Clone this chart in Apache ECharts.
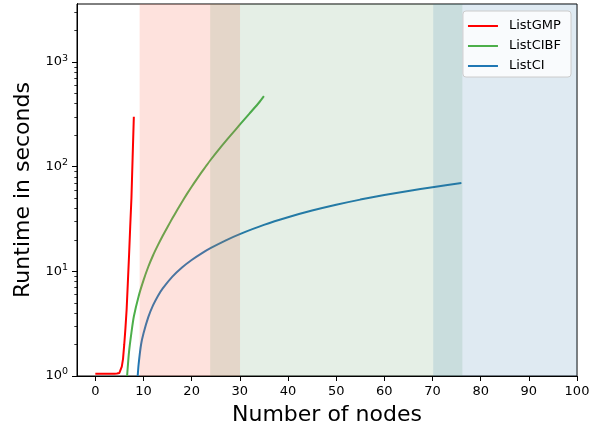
<!DOCTYPE html>
<html lang="en">
<head>
    <meta charset="UTF-8">
    <title>Runtime vs nodes</title>
    <style>
        html, body {margin: 0; padding: 0; background: #fff;}
        #main {width: 605px; height: 429px;}
    </style>
</head>
<body>
<div id="main"></div>
<script src="https://cdn.jsdelivr.net/npm/echarts@6/dist/echarts.min.js"></script>
<script>
    // ListGMP
    let gmpNodes = [0, 1, 2, 3, 4, 4.5, 4.75, 5, 5.25, 5.5, 5.75, 6, 6.25, 6.5, 6.75, 7, 7.25, 7.5, 7.75, 8];
    let gmpTime = [1.05, 1.05, 1.05, 1.05, 1.05, 1.055, 1.06, 1.07, 1.11, 1.23, 1.45, 1.98, 2.84, 4.3, 7.7, 14, 27, 50, 123, 300];
    // ListCIBF
    let cibfNodes = [6.6, 7, 7.5, 8, 9, 10, 11, 12, 13, 14, 15, 16, 17, 18, 19, 20, 21, 22, 23, 24, 26, 28, 30, 32, 34, 35];
    let cibfTime = [1.0, 1.7, 2.6, 3.7, 5.79, 8.2, 11.07, 14.26, 17.8, 21.9, 26.6, 32.1, 38.6, 46.1, 54.7, 64.4, 75.3, 87.7, 101.6, 117.2, 153, 197, 252, 322, 411, 473];
    // ListCI
    let ciNodes = [8.8, 9, 9.5, 10, 11, 12, 13, 14, 16, 18, 20, 22, 24, 27, 30, 35, 40, 45, 50, 55, 60, 65, 70, 76];
    let ciTime = [1.0, 1.3, 2.0, 2.55, 3.65, 4.75, 5.83, 6.88, 8.92, 10.9, 12.85, 14.8, 16.75, 19.7, 22.7, 27.8, 32.9, 38.1, 43.3, 48.5, 53.6, 58.7, 63.7, 70];

    // shaded ranges
    let spanStart = [9.2, 23.85, 70.15];
    let spanEnd = [30.05, 76.2, 100];
    let spanColor = ['rgba(250,110,85,0.2)', 'rgba(70,145,75,0.14)', 'rgba(40,115,165,0.15)'];

    let xTicks = [0, 10, 20, 30, 40, 50, 60, 70, 80, 90, 100];
    let yTicks = [1, 10, 100, 1000];
    let yMinor = [2, 3, 4, 5, 6, 7, 8, 9, 20, 30, 40, 50, 60, 70, 80, 90, 200, 300, 400, 500, 600, 700, 800, 900, 2000, 3000];

    let pairs = (xs, ys) => xs.map((x, i) => [x, ys[i]]);
    let font = 'DejaVu Sans';
    let gridLeft = 77, gridRight = 28;
    let gridWidth = 605 - gridLeft - gridRight;

    // tick-only log axis, moved from the right side onto the left spine
    let tickAxis = (values, len, width) => ({
        type: 'log',
        logBase: 10,
        min: 1,
        max: 3590,
        position: 'right',
        offset: -gridWidth,
        splitLine: {show: false},
        axisLine: {show: true, onZero: false, lineStyle: {color: '#000', width: 1}},
        axisTick: {show: true, inside: true, customValues: values, length: len, lineStyle: {color: '#000', width: width}},
        axisLabel: {show: true, customValues: values, formatter: () => ''}
    });

    let myChart = echarts.init(document.getElementById('main'));
    let option = {
        animation: false,
        textStyle: {fontFamily: font},
        grid: {
            left: gridLeft, right: gridRight, top: 4, bottom: 53, outerBoundsMode: 'none',
            show: true, borderColor: '#000', borderWidth: 1, backgroundColor: 'transparent'
        },
        legend: {
            data: ['ListGMP', 'ListCIBF', 'ListCI'],
            orient: 'vertical',
            right: 34,
            top: 11,
            icon: 'rect',
            itemWidth: 30,
            itemHeight: 2,
            itemGap: 6,
            padding: [8, 10, 4, 5],
            backgroundColor: 'rgba(255,255,255,0.8)',
            borderColor: '#cccccc',
            borderWidth: 1,
            borderRadius: 3,
            textStyle: {fontFamily: font, fontSize: 13, color: '#000', lineHeight: 14, padding: [0, 0, 0, 6]}
        },
        xAxis: {
            type: 'value',
            min: -3.8,
            max: 100,
            name: 'Number of nodes',
            nameLocation: 'middle',
            nameGap: 28,
            nameTextStyle: {fontFamily: font, fontSize: 22, color: '#000', verticalAlign: 'top'},
            splitLine: {show: false},
            axisLine: {onZero: false, lineStyle: {color: '#000', width: 1}},
            axisTick: {show: true, customValues: xTicks, length: 5, lineStyle: {color: '#000', width: 1}},
            axisLabel: {customValues: xTicks, margin: 9, fontFamily: font, fontSize: 13, color: '#000'}
        },
        yAxis: [{
            type: 'log',
            logBase: 10,
            min: 1,
            max: 3590,
            name: 'Runtime in seconds',
            nameLocation: 'middle',
            nameGap: 37,
            nameTextStyle: {fontFamily: font, fontSize: 22, color: '#000'},
            splitLine: {show: false},
            axisLine: {show: true, onZero: false, lineStyle: {color: '#000', width: 1}},
            axisTick: {show: true, customValues: yTicks, length: 5, lineStyle: {color: '#000', width: 1}},
            axisLabel: {
                customValues: yTicks,
                margin: 9,
                fontFamily: font,
                color: '#000',
                formatter: (v) => '{b|10}{s|' + Math.round(Math.log10(v)) + '}',
                rich: {
                    b: {fontFamily: font, fontSize: 13, color: '#000', lineHeight: 20},
                    s: {fontFamily: font, fontSize: 9.5, color: '#000', verticalAlign: 'top', padding: [1, 0, 0, 0]}
                }
            }
        }, tickAxis(yTicks, 5, 1), tickAxis(yMinor, 2.7, 0.8)],
        series: [
            {
                name: 'ListGMP', type: 'line', data: pairs(gmpNodes, gmpTime), showSymbol: false, z: 2,
                lineStyle: {color: '#ff0000', width: 2}, itemStyle: {color: '#ff0000'}
            },
            {
                name: 'ListCIBF', type: 'line', data: pairs(cibfNodes, cibfTime), showSymbol: false,
                smooth: 0.25, z: 2,
                lineStyle: {color: '#4daf4a', width: 2}, itemStyle: {color: '#4daf4a'}
            },
            {
                name: 'ListCI', type: 'line', data: pairs(ciNodes, ciTime), showSymbol: false,
                smooth: 0.25, z: 2,
                lineStyle: {color: '#1f77b4', width: 2}, itemStyle: {color: '#1f77b4'}
            },
            {
                // shaded spans drawn above lines
                name: 'spans',
                type: 'custom',
                z: 3,
                silent: true,
                encode: {x: [0, 1], y: 2},
                data: spanStart.map((s, i) => ({value: [s, spanEnd[i], 1], itemStyle: {color: spanColor[i]}})),
                renderItem: function (params, api) {
                    let cs = params.coordSys;
                    let x0 = api.coord([api.value(0), 1])[0];
                    let x1 = api.coord([api.value(1), 1])[0];
                    x1 = Math.min(x1, cs.x + cs.width);
                    return {
                        type: 'rect',
                        shape: {x: x0, y: cs.y, width: x1 - x0, height: cs.height},
                        style: {fill: api.visual('color')}
                    };
                }
            }
        ]
    };
    myChart.setOption(option);
</script>
</body>
</html>
